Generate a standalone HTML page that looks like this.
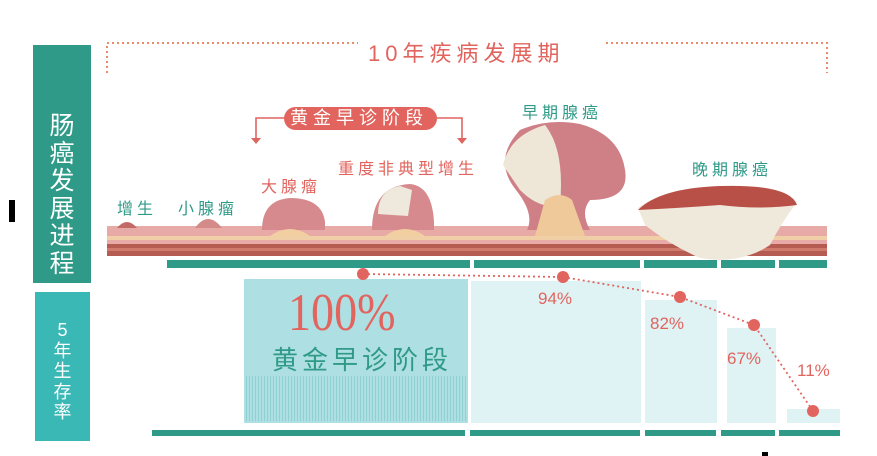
<!DOCTYPE html>
<html><head><meta charset="utf-8"><style>
body{margin:0;background:#fff;width:877px;height:456px;overflow:hidden;position:relative;font-family:"Liberation Sans","Noto Sans CJK SC",sans-serif}
.a{position:absolute;white-space:nowrap}
.l{font-size:16px;letter-spacing:4px}
</style></head><body>
<svg class="a" style="left:0;top:0" width="877" height="456" xmlns="http://www.w3.org/2000/svg">
<rect x="33" y="45" width="58" height="238" fill="#2f9a88"/>
<rect x="35" y="292" width="55" height="149" fill="#39b8b6"/>
<rect x="9" y="200" width="6" height="22" fill="#000"/>
<path d="M107 73 V43 H358 M606 43 H827 V73" fill="none" stroke="#ee8a6c" stroke-width="2" stroke-dasharray="2 3"/>
<path d="M256 140 V118 H290 M430 118 H462 V140" fill="none" stroke="#e06560" stroke-width="1.6"/>
<path d="M251 138 L256 144 L261 138Z M457 138 L462 144 L467 138Z" fill="#e06560"/>
<rect x="284" y="107" width="153" height="23" rx="11.5" fill="#e2645e"/>
<rect x="107" y="226" width="720" height="30" fill="#e8aaa7"/>
<rect x="107" y="236" width="720" height="4" fill="#f1cfa6"/>
<rect x="107" y="244" width="720" height="12" fill="#b65b52"/>
<rect x="107" y="248" width="720" height="3" fill="#d07a6c"/>
<path d="M117 228 Q127 216 137 228Z" fill="#c26a66"/>
<path d="M195 228 Q208 210 222 228Z" fill="#d48a88"/>
<path d="M262 230 Q262 200 290 198 Q322 198 325 222 L325 230Z" fill="#d68a8e"/>
<path d="M270 236 Q290 222 310 236Z" fill="#f2cfa0"/>
<path d="M372 230 Q372 186 410 184 Q432 186 434 222 L434 230Z" fill="#d68a8e"/>
<path d="M378 214 Q378 190 400 186 L412 190 L408 216Z" fill="#efe8dc"/>
<path d="M385 236 Q405 222 425 236Z" fill="#f2cfa0"/>
<path d="M527 230 Q535 214 516 190 Q492 160 520 130 Q548 118 580 124 Q620 135 625 170 Q630 200 590 200 Q580 212 590 230Z" fill="#cf7f86"/>
<path d="M503 165 Q510 135 545 125 Q565 150 560 205 Q540 210 520 190Z" fill="#eee7d8"/>
<path d="M545 200 Q560 190 572 200 L585 236 L535 236Z" fill="#f0c99a"/>
<path d="M638 208 Q660 190 720 186 Q790 184 795 205 Q780 225 770 245 Q740 265 700 258 Q670 245 645 225Z" fill="#efe9dc"/>
<path d="M638 210 Q660 188 720 186 Q790 184 797 205 Q760 210 720 205 Q680 208 638 210Z" fill="#b95047"/>
<g fill="#2f9a88">
<rect x="167" y="260" width="303" height="8"/><rect x="474" y="260" width="166" height="8"/><rect x="644" y="260" width="73" height="8"/><rect x="721" y="260" width="54" height="8"/><rect x="779" y="260" width="48" height="8"/>
<rect x="152" y="430" width="313" height="6"/><rect x="470" y="430" width="170" height="6"/><rect x="645" y="430" width="71" height="6"/><rect x="721" y="430" width="54" height="6"/><rect x="779" y="430" width="61" height="6"/>
</g>
<rect x="244" y="279" width="224" height="144" fill="#aedfe2"/>
<defs><pattern id="st" width="3" height="10" patternUnits="userSpaceOnUse"><rect width="1" height="10" fill="#8fd0d3"/></pattern></defs>
<rect x="244" y="376" width="224" height="45" fill="url(#st)"/>
<rect x="471" y="281" width="170" height="142" fill="#dff2f4"/>
<rect x="645" y="300" width="72" height="123" fill="#dff2f4"/>
<rect x="727" y="328" width="49" height="95" fill="#dff2f4"/>
<rect x="787" y="409" width="53" height="14" fill="#dff2f4"/>
<polyline points="363,274 563,277 680,297 754,325 813,411" fill="none" stroke="#e06560" stroke-width="1.8" stroke-dasharray="2 3"/>
<g fill="#e2645e"><circle cx="363" cy="274" r="6"/><circle cx="563" cy="277" r="6"/><circle cx="680" cy="297" r="6"/><circle cx="754" cy="325" r="6"/><circle cx="813" cy="411" r="6"/></g>
<rect x="762" y="452" width="6" height="4" fill="#000"/>
</svg>
<div class="a" style="left:33px;top:113px;width:58px;color:#fff;font-size:25px;line-height:27.5px;text-align:center;white-space:normal">肠<br>癌<br>发<br>展<br>进<br>程</div>
<div class="a" style="left:35px;top:320px;width:55px;color:#fff;font-size:18px;line-height:20.5px;text-align:center;white-space:normal">5<br>年<br>生<br>存<br>率</div>
<div class="a" style="left:368px;top:36px;color:#e2645e;font-size:22px;letter-spacing:5px">10年疾病发展期</div>
<div class="a" style="left:290px;top:107px;color:#fff;font-size:18px;line-height:23px;letter-spacing:5px">黄金早诊阶段</div>
<div class="a l" style="left:117px;top:195px;color:#2f9a88">增生</div>
<div class="a l" style="left:178px;top:195px;color:#2f9a88">小腺瘤</div>
<div class="a l" style="left:261px;top:173px;color:#e2645e">大腺瘤</div>
<div class="a l" style="left:338px;top:155px;color:#e2645e">重度非典型增生</div>
<div class="a l" style="left:522px;top:99px;color:#2f9a88">早期腺癌</div>
<div class="a l" style="left:692px;top:156px;color:#2f9a88">晚期腺癌</div>
<div class="a" style="left:288px;top:283px;color:#e2645e;font-size:53px;font-family:'Liberation Serif',serif;transform:scaleX(0.87);transform-origin:left">100%</div>
<div class="a" style="left:272px;top:340px;color:#2f9a88;font-size:26px;letter-spacing:4px">黄金早诊阶段</div>
<div class="a" style="left:538px;top:289px;color:#e2645e;font-size:17px">94%</div>
<div class="a" style="left:650px;top:314px;color:#e2645e;font-size:17px">82%</div>
<div class="a" style="left:727px;top:349px;color:#e2645e;font-size:17px">67%</div>
<div class="a" style="left:797px;top:361px;color:#e2645e;font-size:17px">11%</div>
</body></html>
